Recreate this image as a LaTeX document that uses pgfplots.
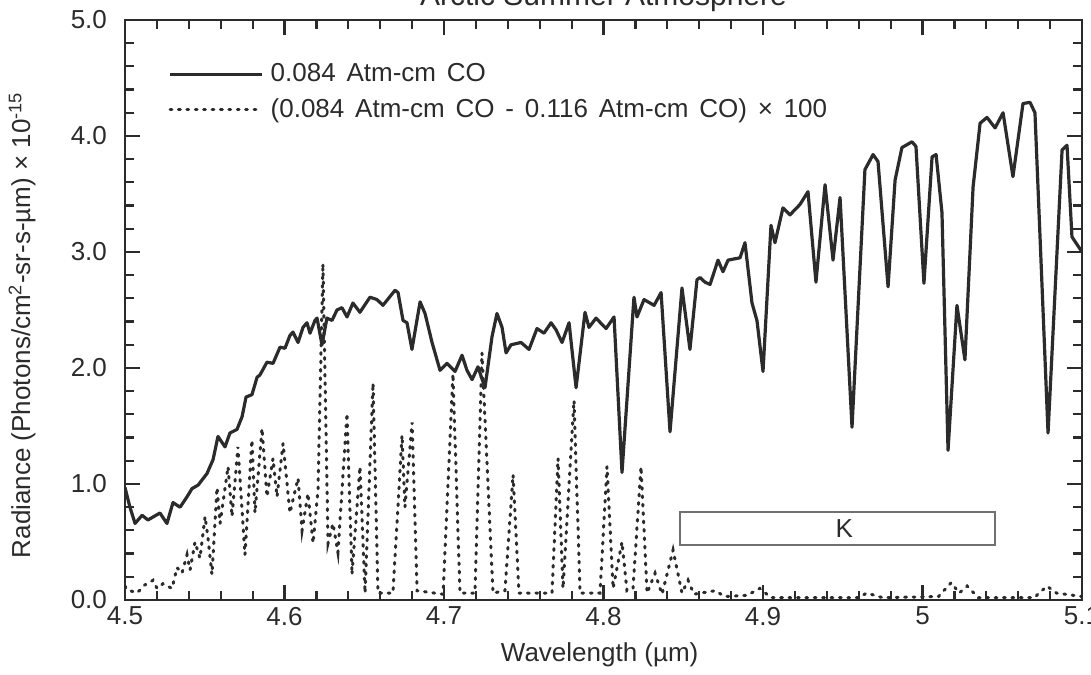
\documentclass[border=0pt]{standalone}
\usepackage{fontspec}
\setmainfont{Liberation Sans}
\newfontfamily\legfont{Liberation Sans}[WordSpace=1.5]
\usepackage{pgfplots}
\usepackage{pgfplotstable}
\pgfplotsset{compat=1.18}
\definecolor{ink}{HTML}{2B2B2B}
\definecolor{boxgray}{HTML}{707070}

% 0.084 Atm-cm CO radiance
\pgfplotstableread{
x y
4.5000 0.97
4.5031 0.80
4.5063 0.66
4.5107 0.73
4.5144 0.69
4.5219 0.75
4.5263 0.66
4.5301 0.84
4.5345 0.80
4.5389 0.89
4.5420 0.96
4.5458 0.99
4.5514 1.09
4.5552 1.21
4.5583 1.41
4.5627 1.32
4.5658 1.44
4.5702 1.47
4.5734 1.58
4.5759 1.75
4.5796 1.77
4.5828 1.92
4.5846 1.94
4.5890 2.05
4.5928 2.04
4.5972 2.18
4.6003 2.17
4.6034 2.28
4.6053 2.31
4.6085 2.22
4.6116 2.35
4.6141 2.39
4.6160 2.30
4.6191 2.41
4.6204 2.43
4.6235 2.20
4.6266 2.43
4.6298 2.41
4.6329 2.50
4.6360 2.52
4.6392 2.44
4.6429 2.56
4.6473 2.48
4.6536 2.61
4.6580 2.59
4.6617 2.54
4.6693 2.67
4.6712 2.65
4.6743 2.41
4.6768 2.39
4.6799 2.16
4.6850 2.57
4.6881 2.47
4.6925 2.22
4.6975 1.98
4.7019 2.04
4.7069 1.97
4.7113 2.11
4.7144 1.98
4.7176 1.90
4.7213 2.01
4.7257 1.83
4.7301 2.27
4.7332 2.47
4.7364 2.35
4.7389 2.13
4.7420 2.20
4.7483 2.22
4.7533 2.16
4.7583 2.34
4.7627 2.30
4.7671 2.39
4.7702 2.33
4.7740 2.22
4.7784 2.39
4.7828 1.83
4.7884 2.48
4.7909 2.35
4.7953 2.43
4.8016 2.34
4.8066 2.44
4.8116 1.10
4.8191 2.61
4.8210 2.44
4.8254 2.59
4.8317 2.54
4.8361 2.65
4.8417 1.45
4.8492 2.69
4.8542 2.16
4.8586 2.76
4.8605 2.78
4.8636 2.74
4.8668 2.72
4.8718 2.93
4.8749 2.83
4.8781 2.93
4.8856 2.95
4.8887 3.08
4.8931 2.56
4.8962 2.41
4.9000 1.97
4.9050 3.23
4.9075 3.08
4.9125 3.38
4.9169 3.32
4.9232 3.41
4.9282 3.52
4.9332 2.74
4.9389 3.58
4.9439 2.93
4.9483 3.47
4.9558 1.49
4.9639 3.71
4.9690 3.84
4.9721 3.78
4.9784 2.70
4.9828 3.62
4.9871 3.90
4.9934 3.95
4.9959 3.91
5.0009 2.73
5.0060 3.82
5.0085 3.84
5.0122 3.34
5.0160 1.29
5.0216 2.54
5.0266 2.07
5.0317 3.56
5.0361 4.11
5.0404 4.16
5.0455 4.07
5.0505 4.20
5.0567 3.65
5.0630 4.28
5.0674 4.29
5.0705 4.20
5.0787 1.44
5.0875 3.88
5.0906 3.92
5.0937 3.13
5.1000 3.00
}\solidtab

% (0.084 - 0.116 Atm-cm CO) x 100
\pgfplotstableread{
x y
4.5000 0.12
4.5013 0.09
4.5075 0.06
4.5125 0.13
4.5176 0.17
4.5201 0.10
4.5238 0.14
4.5295 0.10
4.5326 0.28
4.5357 0.23
4.5389 0.39
4.5408 0.26
4.5439 0.50
4.5470 0.36
4.5502 0.72
4.5520 0.54
4.5545 0.22
4.5577 0.97
4.5596 0.66
4.5646 1.15
4.5671 0.72
4.5708 1.32
4.5752 0.39
4.5796 1.38
4.5815 0.75
4.5859 1.48
4.5890 0.89
4.5928 1.22
4.5953 0.89
4.5991 1.35
4.6034 0.75
4.6085 1.05
4.6110 0.60
4.6147 0.92
4.6179 0.49
4.6210 0.95
4.6241 2.90
4.6273 0.49
4.6304 0.66
4.6335 0.41
4.6392 1.61
4.6423 0.22
4.6473 1.15
4.6505 0.06
4.6555 1.87
4.6586 0.06
4.6680 0.06
4.6737 1.42
4.6755 0.80
4.6800 1.53
4.6831 0.08
4.6994 0.05
4.7056 1.95
4.7100 0.06
4.7194 0.06
4.7238 2.13
4.7307 0.06
4.7382 0.08
4.7433 1.08
4.7470 0.06
4.7677 0.06
4.7715 1.22
4.7746 0.10
4.7815 1.72
4.7853 0.06
4.7978 0.06
4.8022 1.15
4.8060 0.10
4.8116 0.50
4.8147 0.08
4.8185 0.10
4.8235 1.15
4.8273 0.06
4.8323 0.23
4.8367 0.05
4.8436 0.43
4.8492 0.06
4.8530 0.17
4.8567 0.05
4.8700 0.08
4.8760 0.03
4.8900 0.04
4.8980 0.10
4.9050 0.02
4.9600 0.02
4.9650 0.06
4.9750 0.02
5.0100 0.03
5.0180 0.15
5.0230 0.06
5.0280 0.12
5.0350 0.02
5.0700 0.02
5.0780 0.12
5.0840 0.06
5.1000 0.03
}\difftab

\begin{document}
\begin{tikzpicture}
\begin{axis}[
    scale only axis,
    width=478.5pt, height=290pt,
    xmin=4.5, xmax=5.1, ymin=0, ymax=5,
    xtick={4.5,4.6,4.7,4.8,4.9,5.0,5.1},
    xticklabels={4.5,4.6,4.7,4.8,4.9,5,5.1},
    ytick={0,1,2,3,4,5},
    minor x tick num=4, minor y tick num=4,
    tick pos=both, tick align=inside,
    major tick length=7.5pt, minor tick length=4.5pt,
    every tick/.style={ink, line width=1.1pt},
    axis line style={ink, line width=1.4pt},
    /pgf/number format/assume math mode=true,
    yticklabel style={/pgf/number format/fixed, /pgf/number format/fixed zerofill,
        /pgf/number format/precision=1, xshift=-5.5pt},
    tick label style={font=\fontsize{13}{15}\selectfont, text=ink},
    every axis x label/.style={at={(axis description cs:0.496,-0.095)}, anchor=center,
        font=\fontsize{13}{15}\selectfont, text=ink},
    every axis y label/.style={at={(axis description cs:-0.1076,0.474)}, rotate=90, anchor=center,
        font=\fontsize{13}{15}\selectfont, text=ink},
    xlabel={Wavelength (µm)},
    ylabel={Radiance (Photons/cm\textsuperscript{2}-sr-s-µm) × 10\textsuperscript{-15}},
    title={Arctic Summer Atmosphere},
    every axis title/.style={at={(axis description cs:0.5,1)}, anchor=base, yshift=7pt,
        font=\fontsize{15}{18}\selectfont, text=ink},
    legend style={draw=none, fill=none, at={(axis description cs:0.045,0.929)},
        anchor=north west, inner sep=0pt, row sep=5pt, column sep=2.5pt,
        nodes={inner sep=1pt, text=ink},
        font=\legfont\fontsize{13}{15}\selectfont},
    legend cell align=left,
    legend image code/.code={\draw[#1] (0pt,0pt) -- (46pt,0pt);},
]
\addplot[ink, line width=1.6pt, line join=round] table[x=x, y=y] {\solidtab};
\addlegendentry{0.084 Atm-cm CO}
\addplot[ink, line width=1.5pt, line cap=round, dash pattern=on 0.9pt off 3.3pt] table[x=x, y=y] {\difftab};
\addlegendentry{(0.084 Atm-cm CO - 0.116 Atm-cm CO) × 100}

\draw[boxgray, line width=1pt] (axis cs:4.848,0.474) rectangle (axis cs:5.0455,0.759);
\node[text=ink, font=\fontsize{13}{15}\selectfont] at (axis cs:4.951,0.617) {K};

\coordinate (bl) at (rel axis cs:0,0);
\coordinate (tr) at (rel axis cs:1,1);
\end{axis}
\pgfresetboundingbox
\path[use as bounding box] ([shift={(-62.5pt,-37.5pt)}]bl) rectangle ([shift={(4.5pt,10pt)}]tr);
\end{tikzpicture}
\end{document}
